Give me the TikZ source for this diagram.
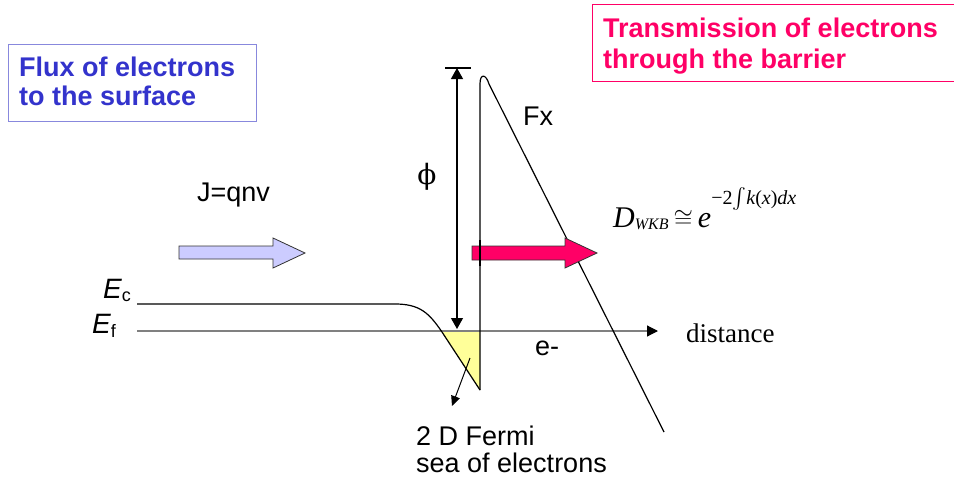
\documentclass[tikz,border=0pt]{standalone}
\usepackage{amsmath}
\usepackage{fontspec}
\setmainfont{Liberation Sans}
\newfontfamily\timesf{Liberation Serif}
\newfontfamily\phifont{DejaVu Serif}
\usetikzlibrary{arrows.meta}
\definecolor{fluxblue}{HTML}{3333CC}
\definecolor{fluxborder}{HTML}{8888DD}
\definecolor{transpink}{HTML}{FF0066}
\definecolor{arrowblue}{HTML}{CCCCFF}
\definecolor{seayellow}{HTML}{FFFF99}
\definecolor{axisgray}{HTML}{808080}
\tikzset{
  lbl/.style={anchor=base west, inner sep=0pt, font=\fontsize{27}{29}\selectfont},
  boldlbl/.style={lbl, font=\fontsize{27}{29}\selectfont\bfseries},
  curve/.style={line width=1.2pt, black},
  fatarrow/.style={draw=black!80, line width=0.8pt, line join=miter},
}
\begin{document}
\begin{tikzpicture}[x=1pt,y=-1pt]
\useasboundingbox (0,0) rectangle (954,485);
\fill[white] (0,0) rectangle (954,485);

% boxes
\draw[fluxborder, line width=1pt] (8,44) rectangle (256,121);
\node[boldlbl, text=fluxblue] (flux1) at (19,76) {Flux of electrons};
\node[boldlbl, text=fluxblue] (flux2) at (19,105) {to the surface};
\draw[transpink, line width=1pt] (954,4) -- (592,4) -- (592,81) -- (954,81);
\node[boldlbl, text=transpink] (tr1) at (603,37) {Transmission of electrons};
\node[boldlbl, text=transpink] (tr2) at (603,68) {through the barrier};

% coordinates
\coordinate (ecL) at (137,304);
\coordinate (ecR) at (395,304);
\coordinate (bend) at (442,332);
\coordinate (bbot) at (480,390);
\coordinate (btop) at (480,84);
\coordinate (fxtop) at (489,84);
\coordinate (fxbot) at (664,432);
\coordinate (efL) at (137,331);
\coordinate (efR) at (658,331);
\coordinate (phiT) at (457,68);
\coordinate (phiB) at (457,329);
\coordinate (barL) at (445,68);
\coordinate (barR) at (471,68);
\coordinate (seaS) at (470,358);
\coordinate (seaE) at (452,406);

% yellow Fermi sea
\fill[seayellow] (441,331) -- (480,331) -- (bbot) -- cycle;

% Ef axis
\draw[axisgray, line width=1.2pt, -{Triangle[length=11pt,width=11pt,color=black]}] (efL) -- (efR);

% Ec band
\draw[curve] (ecL) -- (ecR) .. controls (420,304) and (429,313) .. (bend) -- (bbot);

% barrier
\draw[curve, line join=round] (bbot) -- (btop) .. controls (480,73) and (486,74) .. (fxtop) -- (fxbot);

% phi arrow
\draw[curve] (barL) -- (barR);
\draw[curve, {Triangle[length=11pt,width=12pt]}-{Triangle[length=11pt,width=12pt]}] (phiT) -- (phiB);

% flux arrows
\draw[fatarrow, fill=arrowblue] (179,246) -- (273,246) -- (273,238) -- (305,253) -- (273,268) -- (273,259) -- (179,259) -- cycle;
\draw[fatarrow, fill=transpink] (472,246) -- (565,246) -- (565,238) -- (597,253) -- (565,268) -- (565,260) -- (472,260) -- cycle;
\draw[curve] (480,240) -- (480,266);

% sea pointer
\draw[line width=1pt, -{Triangle[length=10pt,width=9pt]}] (seaS) -- (seaE);

% labels
\node[anchor=center, inner sep=0pt, font=\phifont\fontsize{28}{30}\selectfont] (phi) at (427,177) {ϕ};
\node[lbl] (fx) at (523,125) {Fx};
\node[lbl] (jq) at (197,201) {J=qnv};
\node[lbl] (em) at (535,355) {e-};
\node[lbl, font=\timesf\fontsize{27}{29}\selectfont] (dist) at (686,342) {distance};
\node[lbl] (fermi1) at (416,445) {2 D Fermi};
\node[lbl] (fermi2) at (416,472) {sea of electrons};
\node[anchor=base west, inner sep=0pt, font=\fontsize{28}{30}\selectfont] (ec) at (103,298) {\itshape E\normalfont\fontsize{18}{20}\selectfont\raisebox{-3pt}{c}};
\node[anchor=base west, inner sep=0pt, font=\fontsize{28}{30}\selectfont] (ef) at (92,333) {\itshape E\normalfont\fontsize{18}{20}\selectfont\raisebox{-4pt}{f}};
\node[anchor=base west, inner sep=0pt, font=\timesf\fontsize{30}{32}\selectfont] (dwkb) at (613,227)
  {\itshape D\fontsize{16}{18}\selectfont\raisebox{-2pt}{WKB}\fontsize{30}{32}\selectfont\upshape\,$\cong$\,\itshape e\raisebox{23pt}{\fontsize{20}{22}\selectfont\upshape −2$\textstyle\int$\itshape k\upshape(\itshape x\upshape)\itshape dx}};
\end{tikzpicture}
\end{document}
